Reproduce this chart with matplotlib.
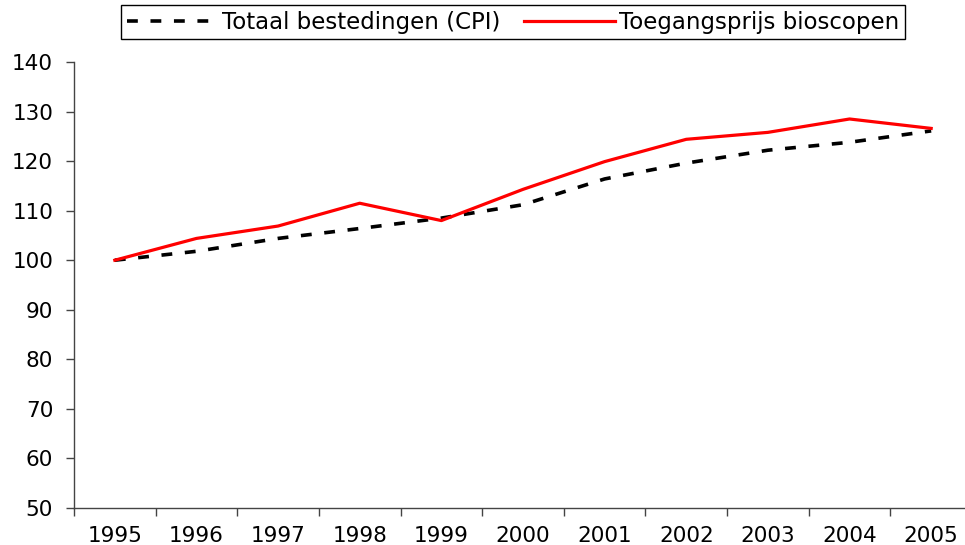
import matplotlib.pyplot as plt
import numpy as np

years = ['1995', '1996', '1997', '1998', '1999', '2000', '2001', '2002', '2003', '2004', '2005']
cpi = [100, 101.8, 104.4, 106.4, 108.5, 111.2, 116.4, 119.6, 122.2, 123.8, 126.1]
bioscoop = [100, 104.4, 106.9, 111.5, 108.0, 114.3, 119.9, 124.4, 125.8, 128.5, 126.6]

plt.rcParams['font.family'] = ['DejaVu Sans']

fig = plt.figure(figsize=(9.65, 5.45), dpi=100)
# plot area runs a little past the right edge, like the original
ax = fig.add_axes([74/965, 37/545, 898/965, 446/545])

x = np.arange(len(years)) + 0.5
ax.plot(x, cpi, color='black', lw=2.6, linestyle=(0, (3, 3.5)), label='Totaal bestedingen (CPI)')
ax.plot(x, bioscoop, color='#ff0000', lw=2.3, label='Toegangsprijs bioscopen')

ax.set_xlim(0, len(years))
ax.set_ylim(50, 140)
ax.set_yticks(range(50, 141, 10))
ax.set_xticks(range(len(years) + 1))
ax.set_xticklabels([])
ax.set_xticks(x, minor=True)
ax.set_xticklabels(years, minor=True)
ax.tick_params(axis='x', which='major', direction='out', length=6, width=1, color='#444444')
ax.tick_params(axis='x', which='minor', length=0, pad=13, labelsize=15.5)
ax.tick_params(axis='y', direction='out', length=6, width=1, color='#444444', pad=9, labelsize=15.5)

for s in ['top', 'right']:
    ax.spines[s].set_visible(False)
for s in ['left', 'bottom']:
    ax.spines[s].set_color('#444444')
    ax.spines[s].set_linewidth(1)

leg = fig.legend(loc='upper center', bbox_to_anchor=(513/965, 1 - 5/545), ncol=2,
                 fontsize=16.5, handlelength=4.0, handletextpad=0.15, columnspacing=1.0,
                 fancybox=False, edgecolor='black', framealpha=1,
                 borderpad=0.25, borderaxespad=0)
leg.get_frame().set_linewidth(1)

fig.savefig('out.png', dpi=100)
